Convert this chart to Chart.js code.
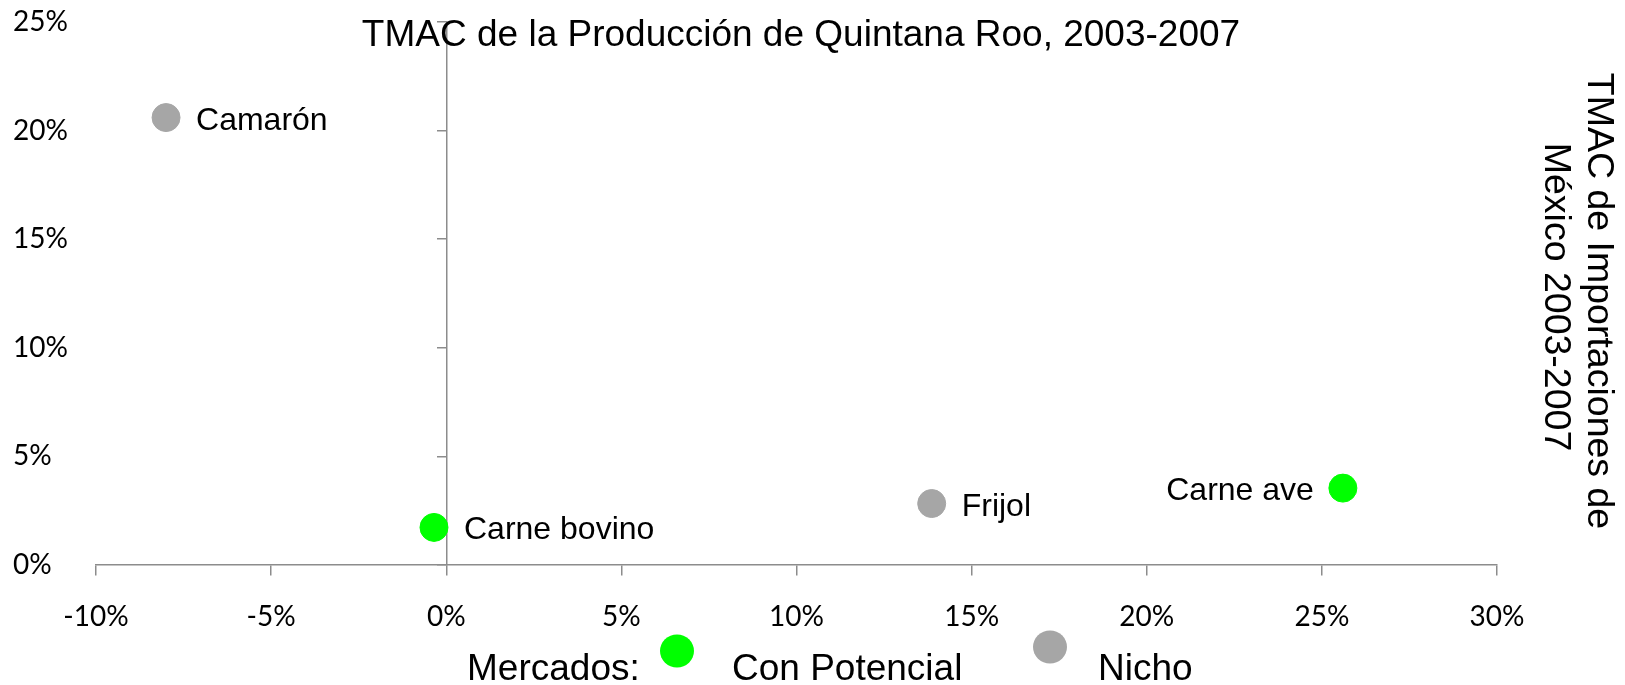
<!DOCTYPE html>
<html>
<head>
<meta charset="utf-8">
<script src="https://cdn.jsdelivr.net/npm/chart.js@4/dist/chart.umd.min.js"></script>
<style>
    html, body { margin: 0; padding: 0; background: #fff; }
    #wrap { width: 1625px; height: 685px; }
</style>
</head>
<body>
<div id="wrap"><canvas id="scatterChart" width="1625" height="685"></canvas></div>
<script>
    // DATA (as fractions)
    const potencialNames = ["Carne bovino", "Carne ave"];
    const potencialX = [-0.0035, 0.256];
    const potencialY = [0.0173, 0.0354];

    const nichoNames = ["Camarón", "Frijol"];
    const nichoX = [-0.080, 0.1386];
    const nichoY = [0.206, 0.0283];

    const xTicks = [-0.10, -0.05, 0, 0.05, 0.10, 0.15, 0.20, 0.25, 0.30];
    const yTicks = [0, 0.05, 0.10, 0.15, 0.20, 0.25];

    const chartTitle = "TMAC de la Producción de Quintana Roo, 2003-2007";
    const rightTitle = ["TMAC de Importaciones de", "México 2003-2007"];
    const legendTitle = "Mercados:";

    const GREEN = "#00ff00";
    const GREY = "#a6a6a6";
    const AXIS = "#8c8c8c";
    const SANS = "'Liberation Sans', Arial, sans-serif";

    //UTILS
    function toPoints(xs, ys) {
        return xs.map((x, i) => ({ x: x, y: ys[i] }));
    }

    function pct(v) {
        return Math.round(v * 100) + "%";
    }

    // labels that sit on the left side of their point
    const leftLabels = ["Carne ave"];

    //PLUGINS
    const pointLabels = {
        id: "pointLabels",
        afterDatasetsDraw(chart) {
            const ctx = chart.ctx;
            ctx.save();
            ctx.font = "32px " + SANS;
            ctx.fillStyle = "#000";
            ctx.textBaseline = "alphabetic";
            chart.data.datasets.forEach((ds, i) => {
                chart.getDatasetMeta(i).data.forEach((pt, j) => {
                    let name = ds.names[j];
                    if (leftLabels.includes(name)) {
                        ctx.textAlign = "right";
                        ctx.fillText(name, pt.x - 29, pt.y + 12);
                    } else {
                        ctx.textAlign = "left";
                        ctx.fillText(name, pt.x + 30, pt.y + 12);
                    }
                });
            });
            ctx.restore();
        }
    };

    const decorations = {
        id: "decorations",
        afterDraw(chart) {
            const ctx = chart.ctx;
            ctx.save();
            ctx.fillStyle = "#000";

            // title over the plot
            ctx.font = "37px " + SANS;
            ctx.textAlign = "center";
            ctx.textBaseline = "alphabetic";
            ctx.fillText(chartTitle, 801, 46);

            // right side title, rotated clockwise
            ctx.font = "37.5px " + SANS;
            let rightX = [1588, 1545];
            let rightY = [301, 297];
            rightTitle.forEach((line, i) => {
                ctx.save();
                ctx.translate(rightX[i], rightY[i]);
                ctx.rotate(Math.PI / 2);
                ctx.fillText(line, 0, 0);
                ctx.restore();
            });

            // legend row
            ctx.font = "37px " + SANS;
            ctx.textAlign = "left";
            ctx.fillText(legendTitle, 467, 680);
            let ds = chart.data.datasets;
            let dotX = [677, 1050];
            let dotY = [651, 647];
            let textX = [732, 1098];
            ds.forEach((d, i) => {
                ctx.beginPath();
                ctx.ellipse(dotX[i], dotY[i], 17, 16.5, 0, 0, Math.PI * 2);
                ctx.fillStyle = d.backgroundColor;
                ctx.fill();
                ctx.fillStyle = "#000";
                ctx.fillText(d.label, textX[i], 680);
            });
            ctx.restore();
        }
    };

    //CHART
    let ctx = document.getElementById("scatterChart").getContext("2d");

    let scatterChart = new Chart(ctx, {
        type: "scatter",
        data: {
            datasets: [{
                label: "Con Potencial",
                names: potencialNames,
                data: toPoints(potencialX, potencialY),
                backgroundColor: GREEN,
                borderColor: GREEN,
                pointRadius: 14,
                pointHoverRadius: 14,
                yAxisID: "y"
            }, {
                label: "Nicho",
                names: nichoNames,
                data: toPoints(nichoX, nichoY),
                backgroundColor: GREY,
                borderColor: GREY,
                pointRadius: 14,
                pointHoverRadius: 14,
                yAxisID: "y"
            }]
        },
        options: {
            responsive: false,
            animation: false,
            events: [],
            layout: {
                padding: { left: 13, right: 128, top: 22, bottom: 120 }
            },
            plugins: {
                legend: { display: false },
                title: { display: false },
                tooltip: { enabled: false }
            },
            scales: {
                x: {
                    type: "linear",
                    min: -0.10,
                    max: 0.30,
                    position: { y: 0 },
                    afterBuildTicks: (scale) => { scale.ticks = xTicks.map(v => ({ value: v })); },
                    ticks: {
                        callback: (v) => pct(v),
                        color: "#000",
                        padding: 25,
                        maxRotation: 0,
                        font: { family: "Lato, sans-serif", size: 28 }
                    },
                    grid: { drawOnChartArea: false, drawTicks: true, tickLength: 10, color: AXIS, lineWidth: 1.5 },
                    border: { display: true, color: AXIS, width: 1.5 }
                },
                y: {
                    type: "linear",
                    min: 0,
                    max: 0.25,
                    position: "left",
                    afterBuildTicks: (scale) => { scale.ticks = yTicks.map(v => ({ value: v })); },
                    afterFit: (scale) => { scale.width = 83; },
                    ticks: {
                        callback: (v) => pct(v),
                        color: "#000",
                        crossAlign: "far",
                        font: { family: "Lato, sans-serif", size: 28 }
                    },
                    grid: { display: false },
                    border: { display: false }
                },
                yLine: {
                    axis: "y",
                    type: "linear",
                    min: 0,
                    max: 0.25,
                    position: { x: 0 },
                    afterBuildTicks: (scale) => { scale.ticks = yTicks.map(v => ({ value: v })); },
                    ticks: { display: false },
                    grid: { drawOnChartArea: false, drawTicks: true, tickLength: 9, color: AXIS, lineWidth: 1.5 },
                    border: { display: true, color: AXIS, width: 1.5 }
                }
            }
        },
        plugins: [pointLabels, decorations]
    });
</script>
</body>
</html>
